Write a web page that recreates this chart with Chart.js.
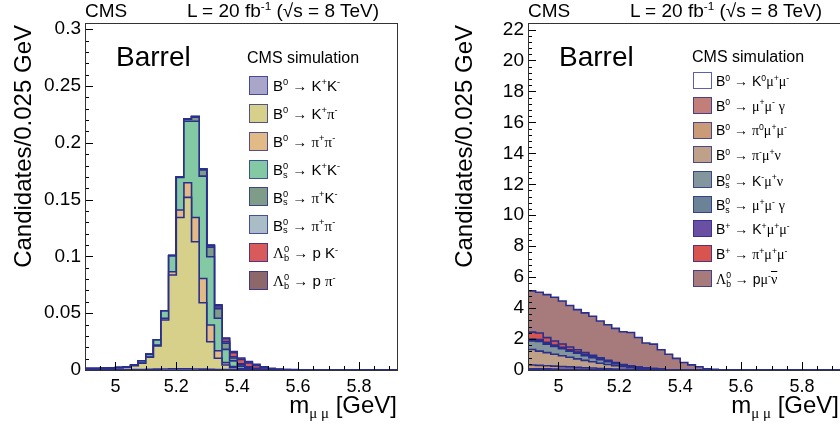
<!DOCTYPE html>
<html><head><meta charset="utf-8">
<script src="https://cdn.jsdelivr.net/npm/chart.js@4.4.1/dist/chart.umd.min.js"></script>
<style>
html,body{margin:0;padding:0;background:#fff;}
body{width:840px;height:430px;overflow:hidden;position:relative;font-family:"Liberation Sans",Arial,Helvetica,sans-serif;color:#000;}
canvas{position:absolute;top:0;}
.t{position:absolute;white-space:nowrap;line-height:1;}
.t sup{font-size:0.62em;position:relative;top:-0.6em;vertical-align:baseline;line-height:0;}
.ss{display:inline-block;vertical-align:-0.3em;font-size:0.62em;line-height:0.95;}
.ss span{display:block;}
.ov{text-decoration:overline;}
.g{font-family:"Liberation Serif","DejaVu Serif",serif;}
.sw{position:absolute;box-sizing:border-box;border:1.5px solid rgba(38,42,140,0.75);}
.ytitle{position:absolute;left:0;top:0;width:345px;text-align:right;font-size:24px;line-height:1;white-space:nowrap;transform-origin:0 0;}
</style></head><body>
<canvas id="c1" width="420" height="430" style="left:0"></canvas>
<canvas id="c2" width="440" height="430" style="left:420px"></canvas>
<div id="txt"></div>
<script>
// ---------- data ----------
const binLow = [4.9,4.925,4.95,4.975,5.0,5.025,5.05,5.075,5.1,5.125,5.15,5.175,5.2,5.225,5.25,5.275,5.3,5.325,5.35,5.375,5.4,5.425,5.45,5.475,5.5,5.525,5.55,5.575,5.6,5.625,5.65,5.675,5.7,5.725,5.75,5.775,5.8,5.825,5.85,5.875,5.9];
const binEnd = 5.925;

// left panel: peaking backgrounds (stack order bottom -> top)
const B0_KK   = [0.0002,0.0002,0.0002,0.0002,0.0003,0.0003,0.0004,0.0005,0.0006,0.0008,0.0009,0.001,0.001,0.001,0.0009,0.0008,0.0006,0.0004,0.0003,0.0002,0.0001,0.0001,0,0,0,0,0,0,0,0,0,0,0,0,0,0,0,0,0,0,0];
const B0_Kpi  = [0.0008,0.0008,0.0009,0.0013,0.0016,0.0021,0.0033,0.0054,0.0106,0.0203,0.0431,0.0826,0.1333,0.151,0.112,0.0584,0.0243,0.0099,0.0041,0.0018,0.0007,0.0003,0.0002,0.0001,0,0,0,0,0,0,0,0,0,0,0,0,0,0,0,0,0];
const B0_pipi = [0.0001,0.0001,0.0001,0.0001,0.0001,0.0001,0.0001,0.0002,0.0003,0.0008,0.0015,0.0029,0.0065,0.0128,0.0214,0.0214,0.0147,0.0067,0.0021,0.001,0.0005,0.0002,0.0001,0,0,0,0,0,0,0,0,0,0,0,0,0,0,0,0,0,0];
const Bs_KK   = [0.0002,0.0002,0.0002,0.0002,0.0002,0.0002,0.0005,0.0019,0.0023,0.0045,0.0064,0.0138,0.0287,0.0542,0.0847,0.0901,0.0601,0.0285,0.0117,0.005,0.002,0.001,0.0005,0.0002,0,0,0,0,0,0,0,0,0,0,0,0,0,0,0,0,0];
const Bs_piK  = [0,0,0,0,0,0,0,0.0001,0.0001,0.0001,0.0002,0.0004,0.0005,0.0018,0.0035,0.0055,0.0085,0.0085,0.0055,0.0025,0.0012,0.0006,0.0003,0.0001,0,0,0,0,0,0,0,0,0,0,0,0,0,0,0,0,0];
const Bs_pipi = [0,0,0,0,0,0,0,0,0,0,0,0,0.0001,0.0004,0.0006,0.0008,0.0012,0.0015,0.0014,0.0012,0.001,0.0007,0.0004,0.0002,0.0001,0,0,0,0,0,0,0,0,0,0,0,0,0,0,0,0];
const Lb_pK   = [0,0,0,0,0,0,0,0,0,0,0,0,0,0,0.0001,0.0002,0.0004,0.0015,0.0025,0.0035,0.0038,0.0033,0.0026,0.0016,0.001,0.0006,0.0003,0.0002,0.0001,0,0,0,0,0,0,0,0,0,0,0,0];
const Lb_ppi  = [0,0,0,0,0,0,0,0,0,0,0,0,0,0,0,0,0.0001,0.0003,0.0006,0.001,0.0012,0.0012,0.001,0.0007,0.0005,0.0003,0.0002,0.0001,0.0001,0,0,0,0,0,0,0,0,0,0,0,0];

// right panel: semileptonic / rare backgrounds (stack order bottom -> top)
const B0_K0mumu   = [0.02,0.02,0.02,0.02,0.01,0.01,0.01,0.01,0,0,0,0,0,0,0,0,0,0,0,0,0,0,0,0,0,0,0,0,0,0,0,0,0,0,0,0,0,0,0,0,0];
const B0_mumugam  = [0.05,0.05,0.05,0.04,0.04,0.04,0.04,0.03,0.03,0.03,0.03,0.02,0.02,0.02,0.02,0.01,0.01,0.01,0,0,0,0,0,0,0,0,0,0,0,0,0,0,0,0,0,0,0,0,0,0,0];
const B0_pi0mumu  = [0.25,0.23,0.2,0.19,0.17,0.15,0.12,0.11,0.1,0.07,0.05,0.04,0.03,0.01,0,0,0,0,0,0,0,0,0,0,0,0,0,0,0,0,0,0,0,0,0,0,0,0,0,0,0];
const B0_pimunu   = [1.0,0.92,0.85,0.77,0.7,0.62,0.55,0.47,0.4,0.34,0.28,0.22,0.16,0.12,0.08,0.05,0.03,0.01,0,0,0,0,0,0,0,0,0,0,0,0,0,0,0,0,0,0,0,0,0,0,0];
const Bs_Kmunu    = [0.55,0.62,0.55,0.5,0.45,0.4,0.36,0.31,0.26,0.22,0.17,0.13,0.09,0.07,0.05,0.04,0.03,0.02,0.01,0,0,0,0,0,0,0,0,0,0,0,0,0,0,0,0,0,0,0,0,0,0];
const Bs_mumugam  = [0.05,0.05,0.05,0.04,0.04,0.04,0.04,0.03,0.03,0.03,0.03,0.02,0.02,0.02,0.02,0.02,0.01,0.01,0.01,0.01,0.01,0.01,0,0,0,0,0,0,0,0,0,0,0,0,0,0,0,0,0,0,0];
const Bp_Kmumu    = [0.08,0.08,0.07,0.06,0.05,0.05,0.04,0.04,0.03,0.03,0.02,0.02,0.02,0.01,0.01,0.01,0.01,0,0,0,0,0,0,0,0,0,0,0,0,0,0,0,0,0,0,0,0,0,0,0,0];
const Bp_pimumu   = [0.45,0.42,0.3,0.25,0.22,0.18,0.15,0.12,0.1,0.07,0.05,0.03,0.02,0.01,0.01,0,0,0,0,0,0,0,0,0,0,0,0,0,0,0,0,0,0,0,0,0,0,0,0,0,0];
const Lb_pmunu    = [2.66,2.63,2.78,2.83,2.78,2.68,2.59,2.57,2.52,2.38,2.29,2.21,2.11,2.16,1.91,1.61,1.58,1.26,1.0,0.74,0.47,0.32,0.21,0.08,0.04,0.02,0.01,0,0,0,0,0,0,0,0,0,0,0,0,0,0];

// tick labels
const xTickValues = [5, 5.2, 5.4, 5.6, 5.8];
const xTickLabels = ['5', '5.2', '5.4', '5.6', '5.8'];
const yTickValuesL = [0, 0.05, 0.1, 0.15, 0.2, 0.25, 0.3];
const yTickLabelsL = ['0', '0.05', '0.1', '0.15', '0.2', '0.25', '0.3'];
const yTickValuesR = [0, 2, 4, 6, 8, 10, 12, 14, 16, 18, 20, 22];
const yTickLabelsR = ['0', '2', '4', '6', '8', '10', '12', '14', '16', '18', '20', '22'];

// legend labels
const labelsL = ['B<sup>0</sup> → K<sup>+</sup>K<sup>-</sup>','B<sup>0</sup> → K<sup>+</sup>π<sup>-</sup>','B<sup>0</sup> → π<sup>+</sup>π<sup>-</sup>',
  'B<span class="ss"><span>0</span><span>s</span></span> → K<sup>+</sup>K<sup>-</sup>','B<span class="ss"><span>0</span><span>s</span></span> → π<sup>+</sup>K<sup>-</sup>',
  'B<span class="ss"><span>0</span><span>s</span></span> → π<sup>+</sup>π<sup>-</sup>','Λ<span class="ss"><span>0</span><span>b</span></span> → p K<sup>-</sup>','Λ<span class="ss"><span>0</span><span>b</span></span> → p π<sup>-</sup>'];
const labelsR = ['B<sup>0</sup> → K<sup>0</sup>μ<sup>+</sup>μ<sup>-</sup>','B<sup>0</sup> → μ<sup>+</sup>μ<sup>-</sup> γ','B<sup>0</sup> → π<sup>0</sup>μ<sup>+</sup>μ<sup>-</sup>',
  'B<sup>0</sup> → π<sup>-</sup>μ<sup>+</sup>ν','B<span class="ss"><span>0</span><span>s</span></span> → K<sup>-</sup>μ<sup>+</sup>ν','B<span class="ss"><span>0</span><span>s</span></span> → μ<sup>+</sup>μ<sup>-</sup> γ',
  'B<sup>+</sup> → K<sup>+</sup>μ<sup>+</sup>μ<sup>-</sup>','B<sup>+</sup> → π<sup>+</sup>μ<sup>+</sup>μ<sup>-</sup>','Λ<span class="ss"><span>0</span><span>b</span></span> → pμ<sup>-</sup><span class="ov">ν</span>'];

const colorsL = ['#aaa6c9','#d6d08b','#e2ba86','#82c9a4','#7e9c88','#aabdc7','#d95a5a','#8e676b'];
const colorsR = ['#ffffff','#c27e79','#c99b77','#bfa088','#83969c','#6c8397','#6a4fa2','#d7544f','#a77b7b'];
const seriesL = [B0_KK,B0_Kpi,B0_pipi,Bs_KK,Bs_piK,Bs_pipi,Lb_pK,Lb_ppi];
const seriesR = [B0_K0mumu,B0_mumugam,B0_pi0mumu,B0_pimunu,Bs_Kmunu,Bs_mumugam,Bp_Kmumu,Bp_pimumu,Lb_pmunu];

// ---------- chart ----------
const FONT = '"Liberation Sans", Arial, Helvetica, sans-serif';
const NAVY = '#2b2f8c';
const X_MIN = 4.9, X_MAX = 5.925;

const rootFrame = {
  id: 'rootFrame',
  afterDatasetsDraw(chart, args, o) {
    const {ctx, chartArea: a, scales: {x, y}} = chart;
    ctx.save();
    ctx.strokeStyle = '#000';
    ctx.lineWidth = 1;
    ctx.beginPath();
    for (let v = X_MIN; v < x.max + 1e-9; v += 0.05) {
      const px = Math.round(x.getPixelForValue(v)) + 0.5;
      const major = Math.abs(v / 0.2 - Math.round(v / 0.2)) < 1e-6;
      ctx.moveTo(px, a.bottom); ctx.lineTo(px, a.bottom - (major ? 8 : 4));
    }
    for (let v = 0; v < y.max + 1e-9; v += o.yMinor) {
      const py = Math.round(y.getPixelForValue(v)) + 0.5;
      const major = Math.abs(v / o.yMajor - Math.round(v / o.yMajor)) < 1e-6;
      ctx.moveTo(a.left, py); ctx.lineTo(a.left + (major ? 8 : 4), py);
    }
    ctx.stroke();
    ctx.strokeStyle = '#333';
    ctx.strokeRect(Math.round(a.left) + 0.5, Math.round(a.top) + 0.5, Math.round(a.right - a.left), Math.round(a.bottom - a.top));
    ctx.restore();
  }
};

function makeChart(id, series, colors, yMax, yTickVals, yTickLabs, yMinor, yMajor, yAxisW, padRight) {
  const datasets = series.map((vals, i) => ({
    data: binLow.map((x, k) => ({x: x, y: vals[k]})).concat([{x: binEnd, y: vals[vals.length - 1]}]),
    backgroundColor: colors[i],
    borderColor: NAVY,
    borderWidth: 1.6,
    fill: i === 0 ? 'origin' : '-1',
    stepped: 'before',
    pointRadius: 0,
    clip: false
  }));
  return new Chart(document.getElementById(id), {
    type: 'line',
    data: {datasets},
    plugins: [rootFrame],
    options: {
      responsive: false, animation: false, devicePixelRatio: 1,
      layout: {padding: {left: 0, top: 23, right: padRight, bottom: 0}},
      plugins: {legend: {display: false}, tooltip: {enabled: false}, rootFrame: {yMinor, yMajor}},
      scales: {
        x: {
          type: 'linear', min: X_MIN, max: X_MAX,
          grid: {display: false, drawTicks: false}, border: {display: false},
          afterBuildTicks: s => { s.ticks = xTickValues.map(v => ({value: v})); },
          afterFit: s => { s.height = 60; },
          ticks: {autoSkip: false, maxRotation: 0, padding: 6, color: '#000', font: {family: FONT, size: 18},
                  callback: (v, i) => xTickLabels[i]}
        },
        y: {
          type: 'linear', stacked: true, min: 0, max: yMax,
          grid: {display: false, drawTicks: false}, border: {display: false},
          afterBuildTicks: s => { s.ticks = yTickVals.map(v => ({value: v})); },
          afterFit: s => { s.width = yAxisW; },
          ticks: {autoSkip: false, padding: 4, color: '#000', font: {family: FONT, size: 19},
                  callback: (v, i) => yTickLabs[i]}
        }
      }
    }
  });
}

makeChart('c1', seriesL, colorsL, 0.3055, yTickValuesL, yTickLabelsL, 0.01, 0.05, 85, 23);
makeChart('c2', seriesR, colorsR, 22.42, yTickValuesR, yTickLabelsR, 0.4, 2, 108, 20);

// ---------- text ----------
const txt = document.getElementById('txt');
function greek(s) { return s.replace(/([μπγνΛ])/g, '<span class="g">$1</span>'); }
function place(html, o) {
  const d = document.createElement('div');
  d.className = 't';
  d.style.fontSize = o.size + 'px';
  d.style.top = (o.base - 0.8465 * o.size) + 'px';
  if (o.left !== undefined) d.style.left = o.left + 'px';
  if (o.right !== undefined) d.style.right = (840 - o.right) + 'px';
  d.innerHTML = html;
  txt.appendChild(d);
  return d;
}
const lumi = 'L = 20 fb<sup>-1</sup> (√<span class="ov">s</span> = 8 TeV)';
[[0, 379], [443, 822]].forEach(([x0, rEdge]) => {
  place('CMS', {left: 85 + x0, base: 17, size: 19});
  place(lumi, {right: rEdge, base: 17, size: 19});
});
place('Barrel', {left: 116, base: 67, size: 28});
place('Barrel', {left: 559, base: 67, size: 28});
place('CMS simulation', {left: 247, base: 64, size: 16});
place('CMS simulation', {left: 692, base: 63, size: 16});
const xTitle = 'm<span style="font-size:0.62em;position:relative;top:0.35em" class="g">μ μ</span> [GeV]';
place(xTitle, {right: 397, base: 413, size: 24});
place(xTitle, {right: 839, base: 413, size: 24});
[[11], [452]].forEach(([X]) => {
  const d = document.createElement('div');
  d.className = 'ytitle';
  d.style.transform = 'translate(' + X + 'px,370px) rotate(-90deg)';
  d.textContent = 'Candidates/0.025 GeV';
  txt.appendChild(d);
});
// legends
labelsL.forEach((lab, i) => {
  const c = 85.3 + 27.9 * i;
  const s = document.createElement('div');
  s.className = 'sw';
  Object.assign(s.style, {left: '249px', top: (c - 9.5) + 'px', width: '19px', height: '19px', background: colorsL[i]});
  txt.appendChild(s);
  place(greek(lab), {left: 273, base: c + 5.4, size: 15});
});
labelsR.forEach((lab, i) => {
  const c = 80.7 + 24.7 * i;
  const s = document.createElement('div');
  s.className = 'sw';
  Object.assign(s.style, {left: '693px', top: (c - 8.5) + 'px', width: '19px', height: '17px', background: colorsR[i]});
  txt.appendChild(s);
  place(greek(lab), {left: 716, base: c + 5, size: 14});
});
</script></body></html>
